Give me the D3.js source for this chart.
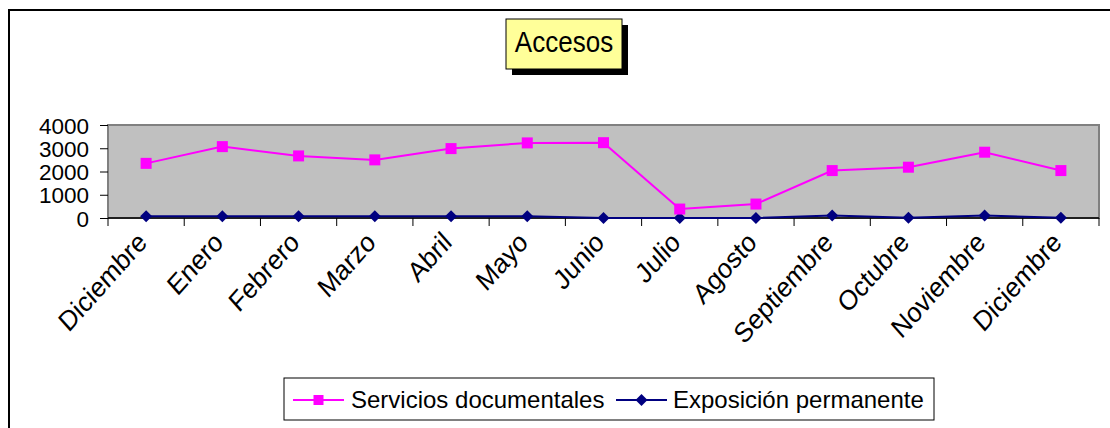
<!DOCTYPE html>
<meta charset="utf-8">
<head>
<style>
body { margin: 0; background: #fff; }
svg { display: block; font-family: "Liberation Sans", Arial, sans-serif; }
.plot-bg { fill: #c0c0c0; stroke: #808080; stroke-width: 2px; }
.axis text { font-size: 22.5px; fill: #000; }
.axis path, .axis line { stroke: #000; }
</style>
</head>
<body>
<svg></svg>
<script src="https://d3js.org/d3.v7.min.js"></script>
<script>

var months = ["Diciembre", "Enero", "Febrero", "Marzo", "Abril", "Mayo", "Junio",
  "Julio", "Agosto", "Septiembre", "Octubre", "Noviembre", "Diciembre"];

// Servicios documentales (pink)
var servicios = [2350, 3070, 2670, 2500, 2985, 3230, 3240, 385, 600, 2040, 2185, 2830, 2040];
// Exposicion permanente (navy)
var exposicion = [70, 70, 70, 70, 70, 70, 5, 5, 5, 110, 10, 110, 10];

var yTicks = [0, 1000, 2000, 3000, 4000];
var titleText = "Accesos";
var seriesNames = ["Servicios documentales", "Exposición permanente"];

var W = 1110, H = 428;
var margin = { top: 125, right: 11, bottom: 210, left: 108 };
var width = W - margin.left - margin.right;
var height = 218 - margin.top;

var svg = d3.select('svg')
  .attr('width', W)
  .attr('height', H);

// outer chart frame (runs off the right/bottom)
svg.append('rect')
  .attr('x', 9).attr('y', 10)
  .attr('width', W + 20).attr('height', H + 20)
  .attr('fill', '#fff')
  .attr('stroke', '#000')
  .attr('stroke-width', 2);

// title box with shadow
var tb = { x: 506, y: 19, w: 116, h: 50 };
svg.append('rect')
  .attr('x', tb.x + 6).attr('y', tb.y + 6)
  .attr('width', tb.w).attr('height', tb.h)
  .attr('fill', '#000');
svg.append('rect')
  .attr('x', tb.x).attr('y', tb.y)
  .attr('width', tb.w).attr('height', tb.h)
  .attr('fill', '#ffff99')
  .attr('stroke', '#000')
  .attr('stroke-width', 1);
svg.append('text')
  .attr('transform', 'translate(' + (tb.x + tb.w / 2) + ',' + (tb.y + 33) + ') scale(1,1.1)')
  .attr('text-anchor', 'middle')
  .style('font-size', '26px')
  .text(titleText);

var g = svg.append('g')
  .attr('transform', 'translate(' + margin.left + ',' + margin.top + ')');

var x = d3.scaleBand().domain(d3.range(months.length)).range([0, width]);
var y = d3.scaleLinear().domain([0, 4000]).range([height, 0]);

g.append('rect')
  .attr('class', 'plot-bg')
  .attr('x', 0).attr('y', 0)
  .attr('width', width).attr('height', height);

// y axis
var yAxis = g.append('g')
  .attr('class', 'axis')
  .call(d3.axisLeft(y).tickValues(yTicks).tickSize(8).tickPadding(11).tickFormat(d3.format('d')));
yAxis.select('.domain').remove();
yAxis.selectAll('text').attr('dy', '0.36em');

// x axis baseline + ticks at band edges
g.append('line')
  .attr('x1', 0).attr('x2', width)
  .attr('y1', height).attr('y2', height)
  .attr('stroke', '#000').attr('stroke-width', 1.5);

var edges = d3.range(months.length + 1).map(function (i) {
  return i < months.length ? x(i) : width;
});
g.selectAll('.xtick')
  .data(edges)
  .enter().append('line')
  .attr('class', 'xtick')
  .attr('x1', function (d) { return d; }).attr('x2', function (d) { return d; })
  .attr('y1', height).attr('y2', height + 8)
  .attr('stroke', '#000');

g.selectAll('.xlabel')
  .data(months)
  .enter().append('text')
  .attr('class', 'xlabel')
  .attr('transform', function (d, i) {
    var cx = x(i) + x.bandwidth() / 2 - 4;
    return 'translate(' + cx + ',' + (height + 19) + ') scale(1,1.12) rotate(-45)';
  })
  .attr('text-anchor', 'end')
  .attr('dy', '0.35em')
  .style('font-size', '25px')
  .text(function (d) { return d; });

var cxOf = function (d, i) { return x(i) + x.bandwidth() / 2; };
var line = d3.line()
  .x(function (d, i) { return cxOf(d, i); })
  .y(function (d) { return y(d); });

// Exposicion permanente
g.append('path')
  .datum(exposicion)
  .attr('d', line)
  .attr('fill', 'none')
  .attr('stroke', '#000080')
  .attr('stroke-width', 2);
g.selectAll('.dia')
  .data(exposicion)
  .enter().append('path')
  .attr('class', 'dia')
  .attr('transform', function (d, i) { return 'translate(' + cxOf(d, i) + ',' + y(d) + ')'; })
  .attr('d', 'M0,-6L6,0L0,6L-6,0Z')
  .attr('fill', '#000080');

// Servicios documentales
g.append('path')
  .datum(servicios)
  .attr('d', line)
  .attr('fill', 'none')
  .attr('stroke', '#ff00ff')
  .attr('stroke-width', 2);
g.selectAll('.sq')
  .data(servicios)
  .enter().append('rect')
  .attr('class', 'sq')
  .attr('x', function (d, i) { return cxOf(d, i) - 5.5; })
  .attr('y', function (d) { return y(d) - 5.5; })
  .attr('width', 11).attr('height', 11)
  .attr('fill', '#ff00ff');

// legend
var lg = svg.append('g');
lg.append('rect')
  .attr('x', 284).attr('y', 378)
  .attr('width', 650).attr('height', 42)
  .attr('fill', '#fff')
  .attr('stroke', '#000')
  .attr('stroke-width', 1);

var legendItems = [
  { name: seriesNames[0], color: '#ff00ff', shape: 'sq', x0: 293, tx: 351 },
  { name: seriesNames[1], color: '#000080', shape: 'dia', x0: 616, tx: 673 }
];
legendItems.forEach(function (it) {
  lg.append('line')
    .attr('x1', it.x0).attr('x2', it.x0 + 51)
    .attr('y1', 400).attr('y2', 400)
    .attr('stroke', it.color).attr('stroke-width', 2);
  if (it.shape === 'sq') {
    lg.append('rect')
      .attr('x', it.x0 + 25.5 - 5).attr('y', 395)
      .attr('width', 10).attr('height', 10)
      .attr('fill', it.color);
  } else {
    lg.append('path')
      .attr('transform', 'translate(' + (it.x0 + 25.5) + ',400)')
      .attr('d', 'M0,-6L6,0L0,6L-6,0Z')
      .attr('fill', it.color);
  }
  lg.append('text')
    .attr('x', it.tx).attr('y', 400)
    .attr('dy', '0.35em')
    .style('font-size', '24px')
    .text(it.name);
});

</script>
</body>
</html>
